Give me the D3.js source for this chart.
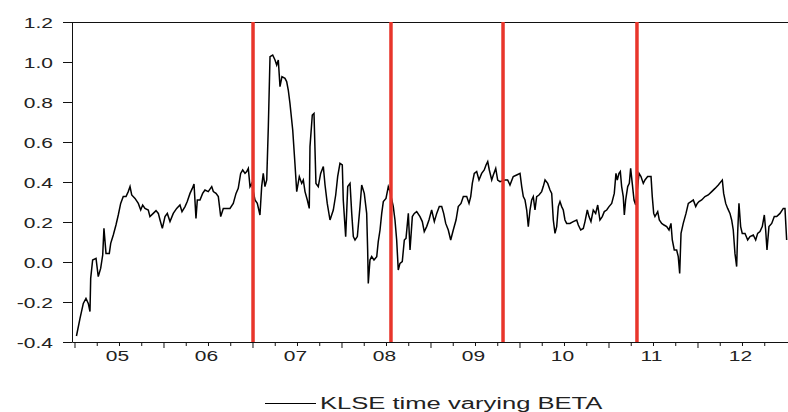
<!DOCTYPE html>
<html>
<head>
<meta charset="utf-8">
<script src="https://cdn.jsdelivr.net/npm/d3@7"></script>
<style>
  body { margin: 0; background: #fff; }
  text { font-family: Arial, "Liberation Sans", sans-serif; fill: #222; }
</style>
</head>
<body>
<div id="chart"></div>
<script>
// dates as decimal years
var t = [
  2005.022, 2005.062, 2005.099, 2005.129, 2005.155, 2005.174, 2005.182, 2005.204, 2005.242, 2005.267,
  2005.294, 2005.317, 2005.331, 2005.354, 2005.391, 2005.407, 2005.436, 2005.466, 2005.492, 2005.519,
  2005.548, 2005.579, 2005.604, 2005.624, 2005.643, 2005.680, 2005.717, 2005.744, 2005.766, 2005.792,
  2005.829, 2005.848, 2005.885, 2005.916, 2005.942, 2005.961, 2005.987, 2006.017, 2006.043, 2006.073,
  2006.110, 2006.148, 2006.185, 2006.208, 2006.242, 2006.267, 2006.298, 2006.324, 2006.343, 2006.365,
  2006.380, 2006.410, 2006.440, 2006.466, 2006.503, 2006.542, 2006.560, 2006.590, 2006.616, 2006.643,
  2006.672, 2006.710, 2006.747, 2006.784, 2006.815, 2006.840, 2006.867, 2006.890, 2006.916, 2006.935,
  2006.953, 2006.972, 2006.991, 2007.028, 2007.054, 2007.084, 2007.103, 2007.121, 2007.140, 2007.160,
  2007.178, 2007.197, 2007.227, 2007.253, 2007.272, 2007.290, 2007.309, 2007.331, 2007.365, 2007.384,
  2007.402, 2007.421, 2007.452, 2007.478, 2007.497, 2007.526, 2007.553, 2007.571, 2007.590, 2007.616,
  2007.638, 2007.646, 2007.672, 2007.691, 2007.713, 2007.739, 2007.766, 2007.796, 2007.815, 2007.840,
  2007.871,
  2007.908, 2007.935, 2007.957, 2007.983, 2008.009, 2008.020, 2008.047, 2008.070, 2008.096, 2008.115,
  2008.133, 2008.152, 2008.178, 2008.208, 2008.227, 2008.256, 2008.283, 2008.294, 2008.301, 2008.320,
  2008.339, 2008.365, 2008.396, 2008.413, 2008.433, 2008.452, 2008.470, 2008.500, 2008.526, 2008.545,
  2008.582, 2008.601, 2008.620, 2008.638, 2008.657, 2008.683, 2008.706, 2008.725, 2008.751, 2008.770,
  2008.796, 2008.818, 2008.845, 2008.882, 2008.908, 2008.930, 2008.957, 2008.983, 2009.013, 2009.043,
  2009.070, 2009.099, 2009.126, 2009.148, 2009.171, 2009.200, 2009.227, 2009.256, 2009.287, 2009.312,
  2009.343, 2009.369, 2009.407, 2009.433, 2009.452, 2009.470, 2009.492, 2009.519, 2009.545, 2009.575,
  2009.604, 2009.624, 2009.643, 2009.661, 2009.688, 2009.706, 2009.733, 2009.755, 2009.781, 2009.837,
  2009.867, 2009.893, 2009.930, 2009.969, 2010.006, 2010.025, 2010.043, 2010.062, 2010.081, 2010.099,
  2010.118, 2010.137, 2010.155, 2010.174, 2010.193, 2010.219, 2010.249, 2010.267, 2010.287, 2010.317,
  2010.343, 2010.362, 2010.380, 2010.399, 2010.418, 2010.436, 2010.455, 2010.474, 2010.492, 2010.511,
  2010.530,
  2010.567, 2010.604, 2010.643, 2010.661, 2010.688, 2010.717, 2010.736, 2010.762, 2010.781, 2010.803,
  2010.829, 2010.856, 2010.879, 2010.904, 2010.930, 2010.953, 2010.980, 2011.006, 2011.036, 2011.065,
  2011.084, 2011.099, 2011.118, 2011.133, 2011.148, 2011.166, 2011.178, 2011.193, 2011.216, 2011.234,
  2011.249, 2011.267, 2011.287, 2011.306, 2011.343, 2011.365, 2011.391, 2011.410, 2011.440, 2011.478,
  2011.492, 2011.508, 2011.522, 2011.553, 2011.571, 2011.598, 2011.624, 2011.654, 2011.680, 2011.702,
  2011.717, 2011.739, 2011.766, 2011.784, 2011.800, 2011.815, 2011.840, 2011.871, 2011.897, 2011.927,
  2011.953, 2011.980, 2011.998, 2012.017, 2012.047, 2012.084, 2012.121, 2012.160, 2012.197, 2012.234,
  2012.264, 2012.279, 2012.294, 2012.317, 2012.339, 2012.365, 2012.384, 2012.402, 2012.421, 2012.440,
  2012.452, 2012.466, 2012.485, 2012.503, 2012.534, 2012.564, 2012.590, 2012.627, 2012.654, 2012.676,
  2012.702, 2012.728, 2012.751, 2012.766, 2012.781, 2012.803, 2012.834, 2012.863, 2012.890, 2012.927,
  2012.964, 2012.983, 2013.002
];

// KLSE time varying beta
var beta = [
  -0.37, -0.282, -0.207, -0.182, -0.207, -0.248, -0.082, 0.01, 0.018, -0.073,
  -0.032, 0.035, 0.168, 0.043, 0.043, 0.093, 0.135, 0.185, 0.235, 0.293,
  0.327, 0.327, 0.352, 0.377, 0.335, 0.318, 0.293, 0.26, 0.285, 0.268,
  0.26, 0.227, 0.243, 0.257, 0.243, 0.21, 0.168, 0.227, 0.243, 0.202,
  0.243, 0.268, 0.285, 0.252, 0.277, 0.302, 0.343, 0.368, 0.39, 0.218,
  0.31, 0.31, 0.343, 0.36, 0.352, 0.377, 0.352, 0.343, 0.327, 0.227,
  0.268, 0.268, 0.268, 0.293, 0.343, 0.368, 0.443, 0.46, 0.443, 0.452,
  0.468, 0.377, 0.393, 0.31, 0.293, 0.235, 0.377, 0.443, 0.377, 0.41,
  0.677, 1.027, 1.035, 1.01, 0.985, 1.01, 0.877, 0.927, 0.918, 0.902,
  0.86, 0.793, 0.66, 0.485, 0.352, 0.427, 0.393, 0.41, 0.352, 0.31,
  0.268, 0.577, 0.735, 0.743, 0.393, 0.377, 0.443, 0.477, 0.385, 0.293, 0.21,
  0.26, 0.335, 0.427, 0.493, 0.485, 0.31, 0.127, 0.377, 0.393, 0.243,
  0.127, 0.11, 0.127, 0.277, 0.385, 0.343, 0.243, 0.06, -0.107, 0.01,
  0.027, 0.01, 0.027, 0.102, 0.16, 0.243, 0.302, 0.318, 0.377, 0.352,
  0.277, 0.21, 0.11, -0.04, -0.007, 0.002, 0.11, 0.118, 0.243, 0.06,
  0.227, 0.243, 0.252, 0.227, 0.202, 0.152, 0.177, 0.21, 0.26, 0.202,
  0.243, 0.277, 0.277, 0.243, 0.193, 0.16, 0.11, 0.16, 0.21, 0.277,
  0.293, 0.327, 0.327, 0.293, 0.327, 0.393, 0.443, 0.452, 0.41, 0.443,
  0.46, 0.485, 0.502, 0.46, 0.41, 0.435, 0.468, 0.41, 0.402, 0.41,
  0.41, 0.385, 0.427, 0.435, 0.443, 0.377, 0.327, 0.31, 0.26, 0.177,
  0.26, 0.31, 0.327, 0.26, 0.327, 0.335, 0.352, 0.377, 0.41, 0.393,
  0.36, 0.343, 0.21, 0.143, 0.177, 0.277, 0.302, 0.277, 0.26, 0.21, 0.193,
  0.193, 0.202, 0.21, 0.185, 0.16, 0.168, 0.202, 0.26, 0.227, 0.202,
  0.26, 0.243, 0.285, 0.21, 0.227, 0.252, 0.26, 0.277, 0.293, 0.343,
  0.443, 0.41, 0.443, 0.452, 0.377, 0.327, 0.235, 0.31, 0.377, 0.393,
  0.468, 0.393, 0.31, 0.285, 0.443, 0.427, 0.393, 0.41, 0.427, 0.427,
  0.327, 0.243, 0.227, 0.252, 0.21, 0.193, 0.185, 0.177, 0.16, 0.193,
  0.11, 0.06, 0.06, 0.027, -0.057, 0.143, 0.193, 0.243, 0.293, 0.302,
  0.31, 0.277, 0.293, 0.302, 0.31, 0.327, 0.335, 0.352, 0.368, 0.385,
  0.402, 0.41, 0.343, 0.293, 0.268, 0.243, 0.21, 0.16, 0.043, -0.023,
  0.152, 0.293, 0.177, 0.143, 0.143, 0.11, 0.127, 0.135, 0.11, 0.143,
  0.152, 0.177, 0.235, 0.16, 0.06, 0.177, 0.193, 0.227, 0.227, 0.243,
  0.268, 0.268, 0.11
];

// structural break dates (red lines)
var breaks = [2007.006, 2008.556, 2009.815, 2011.320];

var yTicks = [-0.4, -0.2, 0.0, 0.2, 0.4, 0.6, 0.8, 1.0, 1.2];
var years = [2005, 2006, 2007, 2008, 2009, 2010, 2011, 2012];
var yearLabels = ["05", "06", "07", "08", "09", "10", "11", "12"];
var seriesName = "KLSE time varying BETA";

var data = t.map(function(d, i) { return {t: d, v: beta[i]}; });

// set the dimensions and margins of the graph
var margin = {top: 22, right: 0, bottom: 70, left: 72},
    width = 788 - margin.left - margin.right,
    height = 412 - margin.top - margin.bottom;

var stretch = 1.4; // the picture's text is wide

var svg = d3.select("#chart")
  .append("svg")
    .attr("width", width + margin.left + margin.right)
    .attr("height", height + margin.top + margin.bottom)
  .append("g")
    .attr("transform", "translate(" + margin.left + "," + margin.top + ")");

var x = d3.scaleLinear()
  .domain([2004.972, 2013.017])
  .range([0, width]);

var y = d3.scaleLinear()
  .domain([-0.4, 1.2])
  .range([height, 0]);

// top border
svg.append("line")
  .attr("x1", 0).attr("x2", width)
  .attr("y1", 0.5).attr("y2", 0.5)
  .attr("stroke", "#111").attr("stroke-width", 1);

// Y axis
var yAxis = svg.append("g")
  .call(d3.axisLeft(y)
    .tickValues(yTicks)
    .tickSize(9)
    .tickSizeOuter(0)
    .tickFormat(function(d) { return d.toFixed(1); }));
yAxis.select(".domain").attr("stroke", "#111");
yAxis.selectAll(".tick line").attr("stroke", "#111");
yAxis.selectAll(".tick text")
  .attr("x", 0)
  .attr("dy", "0.36em")
  .attr("transform", "translate(-19,0) scale(" + stretch + ",1)")
  .style("font-size", "15px")
  .attr("fill", "#222");

// X axis: quarter ticks
var quarters = d3.range(2005.25, 2013, 0.25).filter(function(d) { return d % 1 !== 0; });
var xAxis = svg.append("g")
  .attr("transform", "translate(0," + height + ")")
  .call(d3.axisBottom(x)
    .tickValues(quarters)
    .tickSize(4)
    .tickSizeOuter(0)
    .tickFormat(""));
xAxis.select(".domain").attr("stroke", "#111");
xAxis.selectAll(".tick line").attr("stroke", "#111");

// year ticks, longer
var yearAxis = svg.append("g")
  .attr("transform", "translate(0," + height + ")")
  .call(d3.axisBottom(x)
    .tickValues(years)
    .tickSize(6)
    .tickFormat(""));
yearAxis.select(".domain").remove();
yearAxis.selectAll(".tick line").attr("stroke", "#111");

// year labels, centred in the year
var labelAxis = svg.append("g")
  .attr("transform", "translate(0," + height + ")")
  .call(d3.axisBottom(x)
    .tickValues(years.map(function(d) { return d + 0.5; }))
    .tickSize(0)
    .tickFormat(function(d, i) { return yearLabels[i]; }));
labelAxis.select(".domain").remove();
labelAxis.selectAll(".tick text")
  .attr("y", 0)
  .attr("dy", 0)
  .attr("transform", "translate(-2,19) scale(" + stretch + ",1)")
  .style("font-size", "15px")
  .attr("fill", "#222");

// the beta line
var line = d3.line()
  .x(function(d) { return x(d.t); })
  .y(function(d) { return y(d.v); });

svg.append("path")
  .datum(data)
  .attr("fill", "none")
  .attr("stroke", "#000")
  .attr("stroke-width", 1.5)
  .attr("stroke-linejoin", "miter")
  .attr("d", line);

// break lines
svg.selectAll(".brk")
  .data(breaks)
  .enter()
  .append("line")
    .attr("class", "brk")
    .attr("x1", function(d) { return x(d); })
    .attr("x2", function(d) { return x(d); })
    .attr("y1", 0)
    .attr("y2", height)
    .attr("stroke", "#e8352b")
    .attr("stroke-width", 3.5);

// legend
var legend = svg.append("g")
  .attr("transform", "translate(" + (265 - margin.left) + "," + (403 - margin.top) + ")");
legend.append("line")
  .attr("x1", 0).attr("x2", 51)
  .attr("y1", 0.5).attr("y2", 0.5)
  .attr("stroke", "#000").attr("stroke-width", 1);
legend.append("text")
  .attr("transform", "translate(55,6) scale(1.6,1)")
  .style("font-size", "16px")
  .attr("fill", "#222")
  .text(seriesName);
</script>
</body>
</html>
